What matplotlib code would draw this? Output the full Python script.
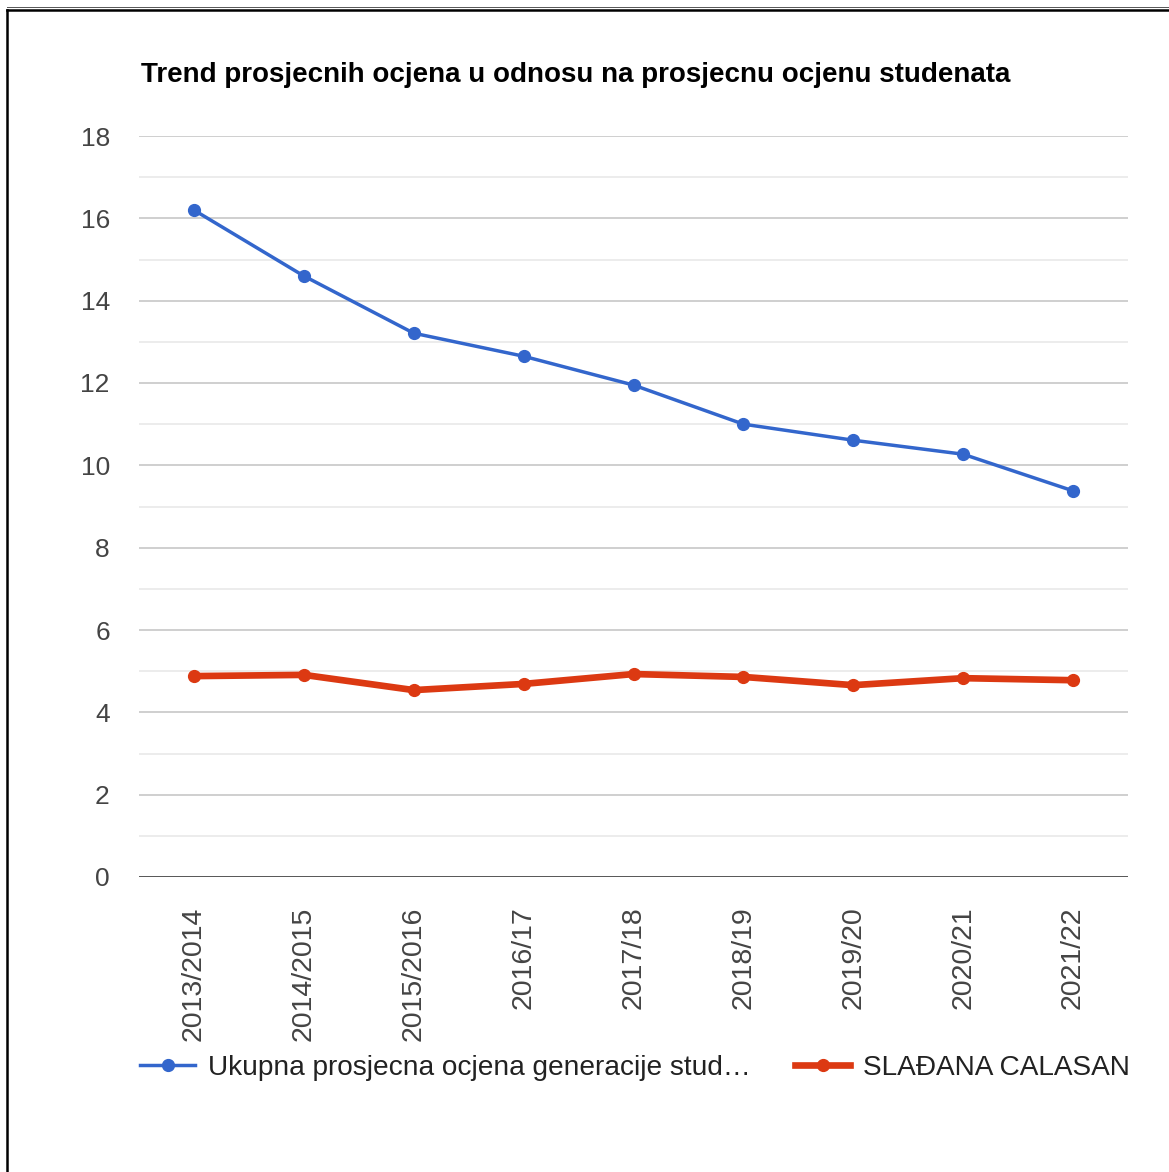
import numpy as np
import matplotlib.pyplot as plt
from matplotlib.lines import Line2D
from matplotlib.ticker import MultipleLocator

# data
years = ['2013/2014', '2014/2015', '2015/2016', '2016/17', '2017/18',
         '2018/19', '2019/20', '2020/21', '2021/22']
ukupna = [16.2, 14.6, 13.21, 12.65, 11.95, 11.0, 10.61, 10.27, 9.38]
sladjana = [4.88, 4.91, 4.54, 4.69, 4.93, 4.86, 4.66, 4.83, 4.78]
label_blue = 'Ukupna prosjecna ocjena generacije stud…'
label_red = 'SLAĐANA CALASAN'
title = 'Trend prosjecnih ocjena u odnosu na prosjecnu ocjenu studenata'

plt.rcParams['font.family'] = ['Liberation Sans', 'DejaVu Sans']

W, H = 1169, 1172
fig = plt.figure(figsize=(W / 100, H / 100), dpi=100)
ax = fig.add_axes([139 / W, 1 - 877 / H, (1128 - 139) / W, (877 - 136) / H])

x = np.arange(len(years))
ax.plot(x, ukupna, color='#3366cc', linewidth=2.5, marker='o', markersize=8.5,
        label=label_blue, zorder=3)
ax.plot(x, sladjana, color='#dc3912', linewidth=4.8, marker='o', markersize=8.5,
        label=label_red, zorder=3)

ax.set_xlim(-0.5, len(years) - 0.5)
ax.set_ylim(0, 18)
ax.yaxis.set_major_locator(MultipleLocator(2))
ax.yaxis.set_minor_locator(MultipleLocator(1))
ax.grid(which='major', axis='y', color='#cccccc', linewidth=1.3)
ax.grid(which='minor', axis='y', color='#ebebeb', linewidth=1.3)
ax.axhline(0, color='#333333', linewidth=1.8, zorder=2)
ax.set_axisbelow(True)
for s in ax.spines.values():
    s.set_visible(False)

ax.set_xticks(x)
ax.set_xticklabels(years, rotation=90, va='top', ha='center')
ax.tick_params(axis='x', length=0, pad=21, labelsize=20.5, labelcolor='#444444')
ax.tick_params(axis='y', which='both', length=0, pad=21, labelsize=19,
               labelcolor='#444444')

fig.text(141 / W, 1 - 75 / H, title, fontsize=20, fontweight='bold',
         color='#000000', ha='left', va='center')

fig.legend(loc='center left', bbox_to_anchor=(129 / W, 1 - 1068 / H), ncol=2,
           frameon=False, fontsize=20.2, handlelength=1.95, handletextpad=0.45,
           columnspacing=1.6, labelcolor='#222222', borderaxespad=0)

# screenshot frame
fig.add_artist(Line2D([7 / W, 7 / W], [0, 1 - 10 / H], color='black',
                      linewidth=1.8, transform=fig.transFigure))
fig.add_artist(Line2D([7 / W, 1], [1 - 10 / H, 1 - 10 / H], color='black',
                      linewidth=1.8, transform=fig.transFigure))
fig.add_artist(Line2D([7 / W, 1], [1 - 6.5 / H, 1 - 6.5 / H], color='#555555',
                      linewidth=0.7, transform=fig.transFigure))

fig.savefig('out.png', dpi=100)
